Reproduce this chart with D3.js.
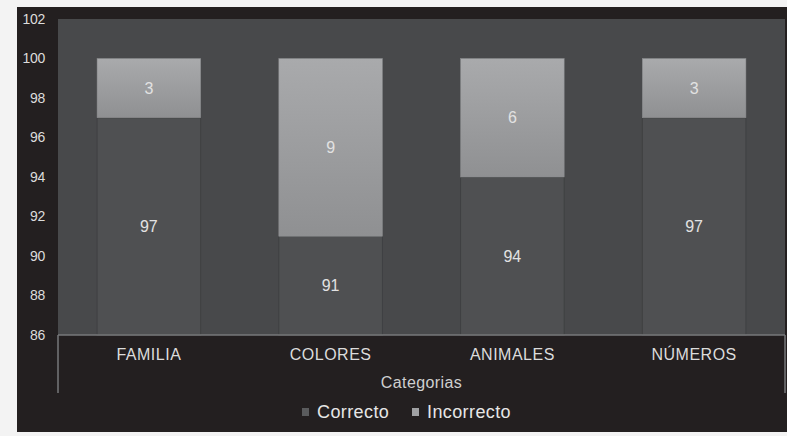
<!DOCTYPE html>
<html><head><meta charset="utf-8">
<script src="https://cdn.jsdelivr.net/npm/d3@7"></script>
<style>body{margin:0;background:#f3f3f3;}svg{display:block;}</style>
</head><body>
<svg id="c" width="787" height="436"></svg>
<script>
const categories = ["FAMILIA", "COLORES", "ANIMALES", "NÚMEROS"];
const correcto = [97, 91, 94, 97];
const incorrecto = [3, 9, 6, 3];
const yTicks = [86, 88, 90, 92, 94, 96, 98, 100, 102];
const seriesNames = ["Correcto", "Incorrecto"];

const svg = d3.select("#c");
const font = "Liberation Sans, Arial, sans-serif";
const defs = svg.append("defs");
const g1 = defs.append("linearGradient").attr("id","inc").attr("x1",0).attr("y1",0).attr("x2",0).attr("y2",1);
g1.append("stop").attr("offset","0%").attr("stop-color","#a9aaac");
g1.append("stop").attr("offset","100%").attr("stop-color","#8f9092");

svg.append("rect").attr("x",17).attr("y",7).attr("width",770).attr("height",425).attr("fill","#231f20");

const L = 58, R = 785, T = 19, B = 335;
const x = d3.scaleBand().domain(categories).range([L, R]).paddingInner(0.43).paddingOuter(0.215);
const y = d3.scaleLinear().domain([86, 102]).range([B, T]);

svg.append("rect").attr("x",L).attr("y",T).attr("width",R-L).attr("height",B-T).attr("fill","#48494b");

const data = categories.map((c,i)=>({c, a: correcto[i], b: incorrecto[i]}));
const stack = d3.stack().keys(["a","b"])(data);

svg.append("g").selectAll("rect").data(stack[0]).join("rect")
  .attr("x", d=>x(d.data.c)).attr("width", x.bandwidth())
  .attr("y", d=>y(d[1])).attr("height", d=>y(86)-y(d[1]))
  .attr("fill","#4f5052").attr("stroke","#3f4042").attr("stroke-width",1);
svg.append("g").selectAll("rect").data(stack[1]).join("rect")
  .attr("x", d=>x(d.data.c)).attr("width", x.bandwidth())
  .attr("y", d=>y(d[1])).attr("height", d=>y(d[0])-y(d[1]))
  .attr("fill","url(#inc)").attr("stroke","#8a8b8d").attr("stroke-width",0.5);

const lab = svg.append("g").attr("font-family",font).attr("font-size",16).attr("fill","#e2e2e2").attr("text-anchor","middle");
stack[0].forEach(d=>{
  lab.append("text").attr("x", x(d.data.c)+x.bandwidth()/2).attr("y", y((86+d[1])/2)).attr("dy","0.35em").text(d.data.a);
});
stack[1].forEach(d=>{
  lab.append("text").attr("x", x(d.data.c)+x.bandwidth()/2).attr("y", y((d[0]+d[1])/2)).attr("dy","0.35em").text(d.data.b);
});

svg.append("line").attr("x1",L).attr("x2",R).attr("y1",B).attr("y2",B).attr("stroke","#77787a").attr("stroke-width",1.5);
svg.append("line").attr("x1",L).attr("x2",L).attr("y1",B).attr("y2",393).attr("stroke","#77787a").attr("stroke-width",1.5);
svg.append("line").attr("x1",R).attr("x2",R).attr("y1",B).attr("y2",393).attr("stroke","#77787a").attr("stroke-width",1.5);

const ya = d3.axisLeft(y).tickValues(yTicks).tickSize(0).tickPadding(0);
const yg = svg.append("g").attr("transform",`translate(${45},0)`).call(ya);
yg.select(".domain").remove();
yg.selectAll("text").attr("font-family",font).attr("font-size",14).attr("fill","#dcdcdc").attr("letter-spacing",-0.3);

const xa = d3.axisBottom(x).tickSize(0).tickPadding(0);
const xg = svg.append("g").attr("transform",`translate(0,${360})`).call(xa);
xg.select(".domain").remove();
xg.selectAll("text").attr("font-family",font).attr("font-size",16).attr("fill","#dcdcdc").attr("dy",0).attr("y",0).attr("letter-spacing",0.5);

svg.append("text").attr("x",(L+R)/2).attr("y",388).attr("text-anchor","middle")
  .attr("font-family",font).attr("font-size",16).attr("letter-spacing",0.4).attr("fill","#d0d0d0").text("Categorias");

const leg = svg.append("g").attr("font-family",font).attr("font-size",18).attr("fill","#e6e6e6").attr("letter-spacing",0.4);
const legX = [302, 412];
const legCol = ["#5a5b5d", "#a0a1a3"];
seriesNames.forEach((n,i)=>{
  leg.append("rect").attr("x",legX[i]).attr("y",408).attr("width",7).attr("height",8).attr("fill",legCol[i]);
  leg.append("text").attr("x",legX[i]+15).attr("y",418).text(n);
});
</script>
</body></html>
